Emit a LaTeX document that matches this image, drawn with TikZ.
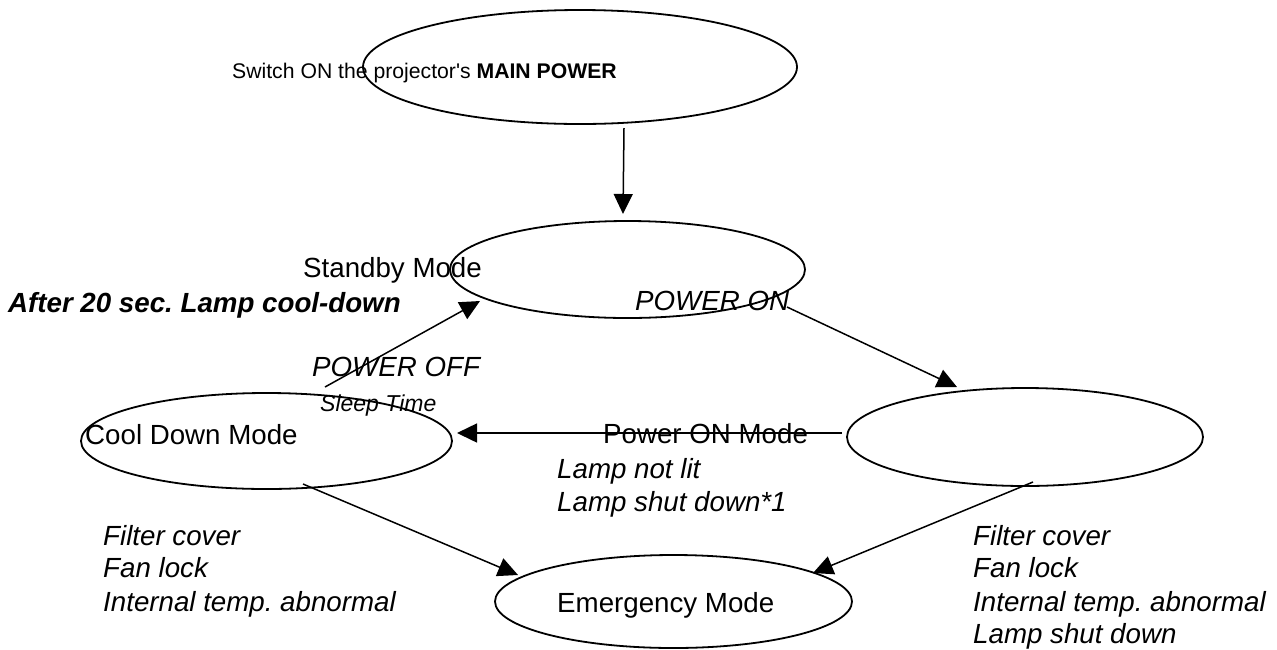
\documentclass[tikz,border=0pt]{standalone}
\usepackage{fontspec}
\setmainfont{Liberation Sans}[Ligatures=TeXOff]
\usetikzlibrary{arrows.meta,shapes.geometric}
\frenchspacing
\begin{document}
\begin{tikzpicture}[x=1pt,y=-1pt,
  state/.style={draw,ellipse,line width=1.8pt,inner sep=0pt},
  conn/.style={line width=1.5pt,-{Triangle[length=20pt,width=19pt]}},
  lbl/.style={inner sep=0pt,anchor=base west,font=\fontsize{27.7}{33}\selectfont},
  lblit/.style={lbl,font=\fontsize{27.7}{33}\selectfont\itshape},
  small/.style={inner sep=0pt,anchor=base west,font=\fontsize{21.2}{25}\selectfont},
  smallit/.style={inner sep=0pt,anchor=base west,font=\fontsize{23}{27}\selectfont\itshape}]
\useasboundingbox (0,0) rectangle (1277,649);
% states
\node[state,minimum width=434pt,minimum height=114pt] (top) at (580,67) {};
\node[state,minimum width=355pt,minimum height=97pt] (standby) at (627.5,269.5) {};
\node[state,minimum width=356pt,minimum height=98pt] (poweron) at (1025,437) {};
\node[state,minimum width=371pt,minimum height=96pt] (cool) at (266.5,441) {};
\node[state,minimum width=357pt,minimum height=93pt] (emerg) at (673.5,601.5) {};
% texts
\node[small] (tmain) at (232,78.5) {Switch ON the projector's \textbf{MAIN POWER}};
\node[lbl] (tstandby) at (303,277.3) {Standby Mode};
\node[lbl,font=\fontsize{27.7}{33}\selectfont\bfseries\itshape] (tafter) at (8,312) {After 20 sec. Lamp cool-down};
\node[lblit] (tpon) at (635,310.7) {POWER ON};
\node[lblit] (tpoff) at (312,376.7) {POWER OFF};
\node[smallit] (tsleep) at (320,411.7) {Sleep Time};
\node[lbl] (tcool) at (85,444) {Cool Down Mode};
\node[lbl] (tponmode) at (603,443.3) {Power ON Mode};
\node[lblit] (tnotlit) at (557,478.3) {Lamp not lit};
\node[lblit] (tshut1) at (557,511.7) {Lamp shut down*1};
\node[lbl] (temerg) at (557,612.3) {Emergency Mode};
\node[lblit] (lf1) at (103,545) {Filter cover};
\node[lblit] (lf2) at (103,577.5) {Fan lock};
\node[lblit] (lf3) at (103,611) {Internal temp. abnormal};
\node[lblit] (rf1) at (973,545) {Filter cover};
\node[lblit] (rf2) at (973,577.5) {Fan lock};
\node[lblit] (rf3) at (973,611) {Internal temp. abnormal};
\node[lblit] (rf4) at (973,643) {Lamp shut down};
% connectors
\draw[conn] ([shift={(44,61)}]top.center) -- ([shift={(-4.5,-55.5)}]standby.center);
\draw[conn] ([shift={(159.5,37.5)}]standby.center) -- ([shift={(-68,-50)}]poweron.center);
\draw[conn] ([shift={(-183,-4)}]poweron.center) -- ([shift={(190.5,-8)}]cool.center);
\draw[conn] ([shift={(58.5,-54)}]cool.center) -- ([shift={(-147.5,31.5)}]standby.center);
\draw[conn] ([shift={(36.5,43)}]cool.center) -- ([shift={(-155.5,-26.5)}]emerg.center);
\draw[conn] ([shift={(8,45)}]poweron.center) -- ([shift={(139.5,-28.5)}]emerg.center);
\end{tikzpicture}
\end{document}
